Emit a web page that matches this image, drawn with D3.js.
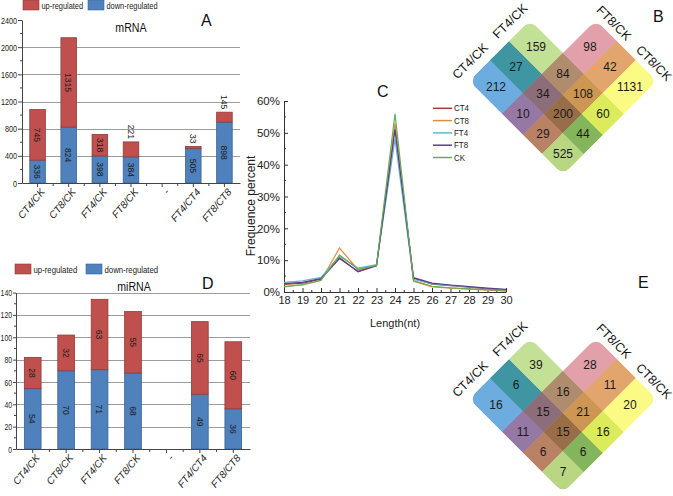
<!DOCTYPE html>
<html><head><meta charset="utf-8">
<script src="https://cdn.jsdelivr.net/npm/d3@7"></script>
<style>
body{margin:0;background:#fff}
svg{display:block}
text{font-family:"Liberation Sans",Arial,sans-serif}
</style>
</head><body><svg id="c" width="673" height="496"></svg>
<script>
// ---------------- DATA ----------------
const categories = ["CT4/CK","CT8/CK","FT4/CK","FT8/CK","-","FT4/CT4","FT8/CT8"];
const mrnaDown = [336,824,398,384,0,505,898];
const mrnaUp   = [745,1315,318,221,0,33,145];
const mrnaTicks = [0,400,800,1200,1600,2000,2400];
const mrnaGrid  = [400,800,1200,1600,2000];
const mirnaDown = [54,70,71,68,0,49,36];
const mirnaUp   = [28,32,63,55,0,65,60];
const mirnaTicks = [0,20,40,60,80,100,120,140];
const mirnaGrid  = [20,40,60,80,100,120,140];
const legendLabels = ["up-regulated","down-regulated"];

const lengths = [18,19,20,21,22,23,24,25,26,27,28,29,30];
const pctTicks = [0,10,20,30,40,50,60];
const seriesNames = ["CT4","CT8","FT4","FT8","CK"];
const ct4 = [2.4,2.8,4.0,10.8,6.3,8.2,52,4.3,2.5,2.0,1.5,1.0,0.6];
const ct8 = [1.8,2.2,3.6,13.8,7.0,8.4,53,3.4,1.6,1.2,0.9,0.6,0.3];
const ft4 = [3.0,3.5,4.6,11.2,7.5,8.6,48,4.0,2.6,2.1,1.6,1.1,0.7];
const ft8 = [2.6,3.0,4.2,10.5,6.5,8.3,51,4.5,2.8,2.2,1.7,1.2,0.8];
const ck  = [1.6,2.3,3.7,11.6,7.2,8.3,56,3.6,1.8,1.3,1.0,0.7,0.4];

const vennSets = ["CT4/CK","FT4/CK","FT8/CK","CT8/CK"];
// regions: A, A∩B, B, A∩C, A∩B∩C, B∩C, C, A∩C∩D, all, B∩C∩D, C∩D, A∩D, A∩B∩D, B∩D, D
const vennMrna  = [212,27,159,10,34,84,98,29,200,108,42,525,44,60,1131];
const vennMirna = [16,6,39,11,15,16,28,6,15,21,11,7,6,16,20];

// ---------------- DRAW ----------------
const svg = d3.select("#c");
const RED = "#c0504d", BLUE = "#4f81bd";

function condense(sel, f) {
  sel.each(function () {
    const L = this.getComputedTextLength();
    if (L > 0) d3.select(this).attr("textLength", L * f).attr("lengthAdjust", "spacingAndGlyphs");
  });
}

function barChart(cfg) {
  const g = svg.append("g");
  const x = d3.scaleBand().domain(categories).range([cfg.left, cfg.right]).paddingInner(0.5).paddingOuter(0.25);
  const y = d3.scaleLinear().domain([0, cfg.max]).range([cfg.bottom, cfg.top]);
  g.append("g").selectAll("line").data(cfg.grid).join("line")
    .attr("x1", cfg.left).attr("x2", cfg.right)
    .attr("y1", d => Math.round(y(d)) + 0.5).attr("y2", d => Math.round(y(d)) + 0.5)
    .attr("stroke", "#9c9c9c").attr("stroke-width", 1);
  const st = categories.map((c, i) => ({c, down: cfg.down[i], up: cfg.up[i]}));
  g.append("g").selectAll("rect").data(st.filter(d => d.down > 0)).join("rect")
    .attr("x", d => x(d.c)).attr("width", x.bandwidth())
    .attr("y", d => y(d.down)).attr("height", d => y(0) - y(d.down))
    .attr("fill", BLUE).attr("stroke", "#3a6494").attr("stroke-width", 0.8);
  g.append("g").selectAll("rect").data(st.filter(d => d.up > 0)).join("rect")
    .attr("x", d => x(d.c)).attr("width", x.bandwidth())
    .attr("y", d => y(d.down + d.up)).attr("height", d => y(d.down) - y(d.down + d.up))
    .attr("fill", RED).attr("stroke", "#8e3b39").attr("stroke-width", 0.8);
  // value labels
  const labs = [];
  st.forEach(d => {
    const cx = x(d.c) + x.bandwidth() / 2;
    if (d.down > 0) labs.push({v: d.down, cx, a: y(0), b: y(d.down)});
    if (d.up > 0) labs.push({v: d.up, cx, a: y(d.down), b: y(d.down + d.up)});
  });
  labs.forEach(l => {
    const h = l.a - l.b;
    const t = g.append("text").text(l.v).attr("font-size", 9.5).attr("fill", "#1c1c1c").attr("dy", "0.35em");
    if (h >= 18) {
      t.attr("transform", `translate(${l.cx},${(l.a + l.b) / 2}) rotate(90)`).attr("text-anchor", "middle");
    } else {
      t.attr("transform", `translate(${l.cx},${l.b - 3}) rotate(90)`).attr("text-anchor", "end");
    }
    condense(t, 0.9);
  });
  // y axis
  const ya = g.append("g").attr("transform", `translate(${cfg.left},0)`)
    .call(d3.axisLeft(y).tickValues(cfg.ticks).tickFormat(d3.format("d")).tickSize(cfg.tick).tickSizeOuter(0).tickPadding(1));
  ya.selectAll("text").attr("font-size", 9.5).attr("fill", "#222");
  condense(ya.selectAll("text"), cfg.tickF);
  ya.select(".domain").attr("stroke", "#444");
  ya.selectAll(".tick line").attr("stroke", "#444");
  g.append("g").selectAll("line").data(cfg.minor).join("line")
    .attr("x1", cfg.left - 2).attr("x2", cfg.left).attr("y1", d => y(d)).attr("y2", d => y(d))
    .attr("stroke", "#444");
  // x axis
  const xa = g.append("g").attr("transform", `translate(0,${cfg.bottom})`)
    .call(d3.axisBottom(x).tickSize(4).tickSizeOuter(0));
  xa.select(".domain").attr("stroke", "#444");
  xa.selectAll(".tick line").attr("stroke", "#444");
  xa.selectAll("text").attr("text-anchor", "end").attr("font-style", "italic").attr("font-size", 10)
    .attr("fill", "#222").attr("y", 0).attr("dy", "0.35em")
    .attr("transform", "translate(5,7) rotate(-50)");
  g.append("g").selectAll("line").data(categories.slice(1)).join("line")
    .attr("x1", d => x(d) - x.step() * 0.25).attr("x2", d => x(d) - x.step() * 0.25)
    .attr("y1", cfg.bottom).attr("y2", cfg.bottom + 3).attr("stroke", "#444");
  // legend
  const lg = g.append("g").attr("transform", `translate(${cfg.legX},${cfg.legY})`);
  [[RED, 0], [BLUE, cfg.legGap]].forEach(([c, dx], i) => {
    lg.append("rect").attr("x", dx).attr("y", 0).attr("width", 16).attr("height", 10)
      .attr("fill", c).attr("stroke", i ? "#3a6494" : "#8e3b39").attr("stroke-width", 0.6);
    const t = lg.append("text").attr("x", dx + 18.5).attr("y", 8.5).attr("font-size", 9.5)
      .attr("fill", "#222").text(legendLabels[i]);
    condense(t, cfg.legF);
  });
  const tt = g.append("text").attr("x", cfg.titleX).attr("y", cfg.titleY).attr("text-anchor", "middle")
    .attr("font-size", 12.5).attr("fill", "#111").text(cfg.title);
  condense(tt, 0.85);
  g.append("text").attr("x", cfg.letterX).attr("y", cfg.letterY).attr("font-size", 16).attr("fill", "#111").text(cfg.letter);
}

barChart({left: 22, right: 240, top: 20, bottom: 183, max: 2400, down: mrnaDown, up: mrnaUp,
  ticks: mrnaTicks, grid: mrnaGrid, minor: [200,600,1000,1400,1800,2200], tick: 4, tickF: 0.76,
  legX: 23, legY: 0, legGap: 65, legF: 0.78, title: "mRNA", titleX: 131, titleY: 32, letter: "A", letterX: 201, letterY: 26});
barChart({left: 16, right: 250, top: 292.6, bottom: 449, max: 140, down: mirnaDown, up: mirnaUp,
  ticks: mirnaTicks, grid: mirnaGrid, minor: [10,30,50,70,90,110,130], tick: 3, tickF: 0.72,
  legX: 15, legY: 264, legGap: 71, legF: 0.82, title: "miRNA", titleX: 134, titleY: 291, letter: "D", letterX: 202, letterY: 289});

// ---------- line chart C ----------
(function () {
  const g = svg.append("g");
  const x = d3.scaleLinear().domain([18, 30]).range([284, 506]);
  const y = d3.scaleLinear().domain([0, 60]).range([292, 101]);
  const series = [ct4, ct8, ft4, ft8, ck];
  const colors = ["#a83c3c", "#e88c3c", "#62b6d6", "#5a3e8e", "#66ad58"];
  const line = d3.line().x((d, i) => x(lengths[i])).y(d => y(d));
  const ya = g.append("g").attr("transform", "translate(284,0)")
    .call(d3.axisLeft(y).tickValues(pctTicks).tickFormat(d => d + "%").tickSize(-4).tickSizeOuter(0).tickPadding(4));
  ya.selectAll("text").attr("font-size", 11.5).attr("fill", "#222");
  ya.select(".domain").attr("stroke", "#333");
  ya.selectAll(".tick line").attr("stroke", "#333");
  g.append("g").selectAll("line").data(pctTicks.slice(1).map(d => d - 5)).join("line")
    .attr("x1", 284).attr("x2", 286).attr("y1", d => y(d)).attr("y2", d => y(d)).attr("stroke", "#333");
  const xa = g.append("g").attr("transform", "translate(0,292)")
    .call(d3.axisBottom(x).tickValues(lengths).tickFormat(d3.format("d")).tickSize(-4).tickSizeOuter(0).tickPadding(4));
  xa.selectAll("text").attr("font-size", 11).attr("fill", "#222");
  xa.select(".domain").attr("stroke", "#333");
  xa.selectAll(".tick line").attr("stroke", "#333");
  g.append("g").selectAll("line").data(lengths.slice(1).map(d => d - 0.5)).join("line")
    .attr("x1", d => x(d)).attr("x2", d => x(d)).attr("y1", 292).attr("y2", 290).attr("stroke", "#333");
  series.forEach((s, i) => {
    g.append("path").datum(s).attr("d", line).attr("fill", "none").attr("stroke", colors[i]).attr("stroke-width", 1.2);
  });
  g.append("text").attr("transform", "translate(255,206) rotate(-90)").attr("text-anchor", "middle")
    .attr("font-size", 12).attr("fill", "#222").text("Frequence percent");
  g.append("text").attr("x", 395).attr("y", 327).attr("text-anchor", "middle").attr("font-size", 11)
    .attr("fill", "#222").text("Length(nt)");
  g.append("text").attr("x", 377).attr("y", 97).attr("font-size", 16).attr("fill", "#111").text("C");
  const lg = g.append("g");
  seriesNames.forEach((n, i) => {
    const yy = 108.3 + i * 12.3;
    lg.append("line").attr("x1", 433).attr("x2", 452).attr("y1", yy).attr("y2", yy).attr("stroke", colors[i]).attr("stroke-width", 1.5);
    const t = lg.append("text").attr("x", 454).attr("y", yy).attr("dy", "0.35em").attr("font-size", 9).attr("fill", "#222").text(n);
    condense(t, 0.88);
  });
})();

// ---------- Venn diagrams ----------
const pb = [550, 616, 658, 696, 738], qb = [388, 430, 468, 510, 576];
const setBoxes = [{p: [0, 4], q: [0, 2]}, {p: [0, 4], q: [1, 3]}, {p: [1, 3], q: [0, 4]}, {p: [2, 4], q: [0, 4]}];
const cells = [[0,0],[0,1],[0,2],[1,0],[1,1],[1,2],[1,3],[2,0],[2,1],[2,2],[2,3],[3,0],[3,1],[3,2],[3,3]];
const cellColors = ["#6cacde","#3f95a2","#c3e196","#9678a5","#8c6e7a","#b08c6e","#e1a0aa",
  "#ba8264","#986e48","#cd9652","#e2a56e","#b9d782","#84b45c","#dceb5c","#fafa84"];

function venn(dy, values, letter, lx, ly) {
  const g = svg.append("g").attr("transform", `translate(0,${dy})`);
  const id = "uni" + dy;
  const tg = g.append("g").attr("transform", "matrix(0.5,0.5,0.5,-0.5,0,0)");
  const cp = tg.append("clipPath").attr("id", id);
  setBoxes.forEach(b => {
    cp.append("rect").attr("x", pb[b.p[0]]).attr("y", qb[b.q[0]])
      .attr("width", pb[b.p[1]] - pb[b.p[0]]).attr("height", qb[b.q[1]] - qb[b.q[0]])
      .attr("rx", 13).attr("ry", 13);
  });
  const inner = tg.append("g").attr("clip-path", `url(#${id})`);
  inner.selectAll("rect").data(cells).join("rect")
    .attr("x", d => pb[d[0]]).attr("y", d => qb[d[1]])
    .attr("width", d => pb[d[0] + 1] - pb[d[0]]).attr("height", d => qb[d[1] + 1] - qb[d[1]])
    .attr("fill", (d, i) => cellColors[i]).attr("stroke", (d, i) => cellColors[i]).attr("stroke-width", 0.8);
  const pc = i => (pb[i] + pb[i + 1]) / 2, qc = j => (qb[j] + qb[j + 1]) / 2;
  g.selectAll("text.num").data(cells).join("text").attr("class", "num")
    .attr("x", d => (pc(d[0]) + qc(d[1])) / 2).attr("y", d => (pc(d[0]) - qc(d[1])) / 2)
    .attr("dy", "0.35em").attr("text-anchor", "middle").attr("font-size", 12).attr("fill", "#1a1a1a")
    .text((d, i) => values[i]);
  const labPos = [[pb[0] - 19, qc(0), -45], [pb[0] - 19, qc(2), -45], [pc(1), qb[4] + 15, 45], [pc(3), qb[4] + 15, 45]];
  labPos.forEach((l, i) => {
    g.append("text").attr("transform", `translate(${(l[0] + l[1]) / 2},${(l[0] - l[1]) / 2}) rotate(${l[2]})`)
      .attr("text-anchor", "middle").attr("dy", "0.35em").attr("font-size", 12.5).attr("fill", "#111").text(vennSets[i]);
  });
  g.append("text").attr("x", lx).attr("y", ly).attr("font-size", 16).attr("fill", "#111").text(letter);
}
venn(0, vennMrna, "B", 653, 22);
venn(318, vennMirna, "E", 638, -30);
</script>
</body></html>
